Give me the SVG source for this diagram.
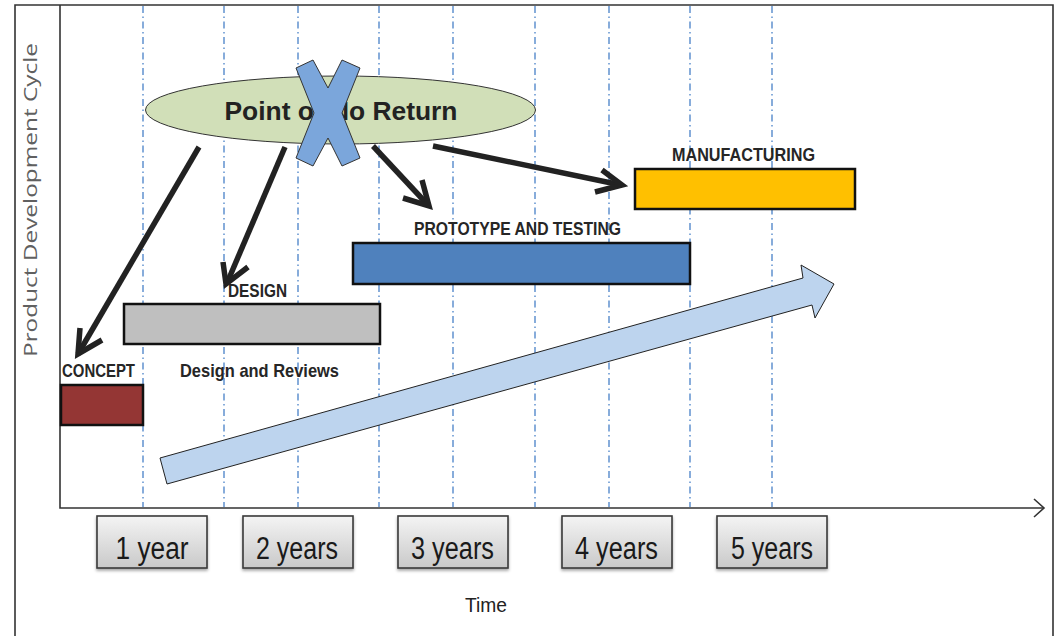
<svg xmlns="http://www.w3.org/2000/svg" width="1058" height="636" viewBox="0 0 1058 636">
<style>
.grid{stroke:#6a98d2;stroke-width:1.6;stroke-dasharray:7 3.5 1.5 3.5;fill:none}
.axis{stroke:#333;stroke-width:1.6;fill:none}
.bar{stroke:#111;stroke-width:2.5}
.lbl{font-family:"Liberation Sans",Arial,sans-serif;font-weight:bold;font-size:19px;fill:#262626}
.yr{font-family:"Liberation Sans",Arial,sans-serif;font-size:31px;fill:#1a1a1a}
.ybox{fill:url(#g);stroke:#3a3a3a;stroke-width:1.6}
.arr{stroke:#222;stroke-width:5.5;fill:none;stroke-linejoin:miter}
</style>
<defs>
<linearGradient id="g" x1="0" y1="0" x2="0" y2="1">
<stop offset="0" stop-color="#f4f4f4"/>
<stop offset="1" stop-color="#c9c9c9"/>
</linearGradient>
<filter id="sh" x="-10%" y="-10%" width="130%" height="140%">
<feDropShadow dx="0" dy="2" stdDeviation="1.5" flood-color="#000" flood-opacity="0.35"/>
</filter>
</defs>
<rect x="0" y="0" width="1058" height="636" fill="#fff"/>
<g id="frame">
<path class="axis" d="M15,640 V5 H1053 V640"/>
</g>
<g id="grid">
<line class="grid" x1="143" y1="6" x2="143" y2="507"/>
<line class="grid" x1="224" y1="6" x2="224" y2="507"/>
<line class="grid" x1="298" y1="6" x2="298" y2="507"/>
<line class="grid" x1="379" y1="6" x2="379" y2="507"/>
<line class="grid" x1="453" y1="6" x2="453" y2="507"/>
<line class="grid" x1="535" y1="6" x2="535" y2="507"/>
<line class="grid" x1="609" y1="6" x2="609" y2="507"/>
<line class="grid" x1="690" y1="6" x2="690" y2="507"/>
<line class="grid" x1="772" y1="6" x2="772" y2="507"/>
</g>
<g id="axes">
<path class="axis" d="M60,5 V508 H1044"/>
<path class="axis" d="M1034,499 L1044,508 L1034,517" stroke-width="2"/>
<text x="37" y="200" transform="rotate(-90 37 200)" text-anchor="middle" font-family="'Open Sans','Liberation Sans',sans-serif" font-size="18" fill="#606060" textLength="314" lengthAdjust="spacingAndGlyphs">Product Development Cycle</text>
<text x="486" y="612" text-anchor="middle" font-family="'Liberation Sans',Arial,sans-serif" font-size="20" fill="#222" textLength="42" lengthAdjust="spacingAndGlyphs">Time</text>
</g>
<g id="trend">
<polygon points="160,458 803,278 801,265 834,284 815,318 812,305 167,484" fill="#bdd4ee" stroke="#222" stroke-width="1"/>
</g>
<g id="concept">
<rect class="bar" x="61" y="385" width="82" height="40" fill="#943634"/>
<text class="lbl" x="62" y="377" textLength="73" lengthAdjust="spacingAndGlyphs">CONCEPT</text>
</g>
<g id="design">
<rect class="bar" x="124" y="304" width="256" height="40" fill="#bfbfbf"/>
<text class="lbl" x="228" y="297" textLength="59" lengthAdjust="spacingAndGlyphs">DESIGN</text>
<text class="lbl" x="180" y="377" textLength="159" lengthAdjust="spacingAndGlyphs">Design and Reviews</text>
</g>
<g id="prototype">
<rect class="bar" x="353" y="243" width="337" height="41" fill="#4f81bd"/>
<text class="lbl" x="414" y="235" textLength="207" lengthAdjust="spacingAndGlyphs">PROTOTYPE AND TESTING</text>
</g>
<g id="manufacturing">
<rect class="bar" x="635" y="169" width="220" height="40" fill="#ffc000"/>
<text class="lbl" x="672" y="161" textLength="143" lengthAdjust="spacingAndGlyphs">MANUFACTURING</text>
</g>
<g id="connectors">
<path class="arr" d="M199,147 L78,354"/>
<path class="arr" d="M80,328 L78,354 L102,340"/>
<path class="arr" d="M285,147 L227,283"/>
<path class="arr" d="M223,262 L226,284 L248,267"/>
<path class="arr" d="M373,146 L428,205"/>
<path class="arr" d="M403,198 L429,206 L422,180"/>
<path class="arr" d="M433,146 L621,185"/>
<path class="arr" d="M595,192 L622,185 L602,170"/>
</g>
<g id="point-of-no-return">
<ellipse cx="340.5" cy="110" rx="195" ry="34" fill="#d1dfb8" stroke="#333" stroke-width="1"/>
<text x="341" y="120" text-anchor="middle" font-family="'Liberation Sans',Arial,sans-serif" font-weight="bold" font-size="25" fill="#222" textLength="233" lengthAdjust="spacingAndGlyphs">Point of No Return</text>
<polygon points="313,60 328,88 342,60 360,68 342,113 360,158 342,166 328,138 313,166 296,158 314,113 296,68" fill="#7ba6db" stroke="#333" stroke-width="1"/>
</g>
<g id="years">
<g id="y1"><rect class="ybox" x="97" y="516" width="110" height="52" filter="url(#sh)"/><text class="yr" x="152" y="559" text-anchor="middle" textLength="73" lengthAdjust="spacingAndGlyphs">1 year</text></g>
<g id="y2"><rect class="ybox" x="243" y="516" width="110" height="52" filter="url(#sh)"/><text class="yr" x="297" y="559" text-anchor="middle" textLength="82" lengthAdjust="spacingAndGlyphs">2 years</text></g>
<g id="y3"><rect class="ybox" x="398" y="516" width="110" height="52" filter="url(#sh)"/><text class="yr" x="452.5" y="559" text-anchor="middle" textLength="83" lengthAdjust="spacingAndGlyphs">3 years</text></g>
<g id="y4"><rect class="ybox" x="562" y="516" width="110" height="52" filter="url(#sh)"/><text class="yr" x="616.5" y="559" text-anchor="middle" textLength="83" lengthAdjust="spacingAndGlyphs">4 years</text></g>
<g id="y5"><rect class="ybox" x="717" y="516" width="110" height="52" filter="url(#sh)"/><text class="yr" x="772" y="559" text-anchor="middle" textLength="82" lengthAdjust="spacingAndGlyphs">5 years</text></g>
</g>
</svg>
